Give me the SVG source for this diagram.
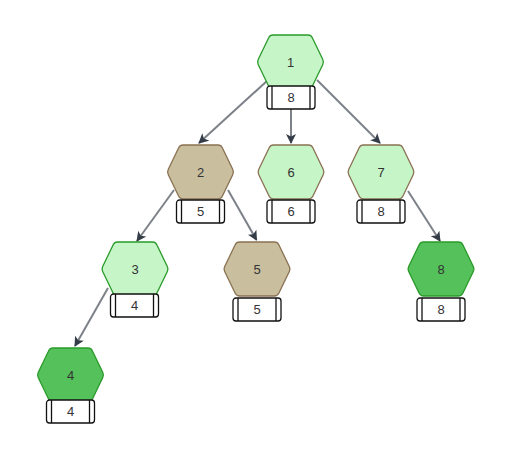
<svg xmlns="http://www.w3.org/2000/svg" xmlns:xlink="http://www.w3.org/1999/xlink" width="512" height="457" viewBox="0 0 512 457">
<style>
.lt{fill:#c6f5c8}
.tan{fill:#c9bf9f}
.dk{fill:#55c15b}
.sg{stroke:#2a9a2a;stroke-width:1.3}
.sb{stroke:#8a7152;stroke-width:1.3}
.box rect{fill:#fff;stroke:#111;stroke-width:1.3}
.box line{stroke:#111;stroke-width:1.3}
text{font-family:"Liberation Sans",Arial,sans-serif;font-size:13px;fill:#333;text-anchor:middle}
.edge{stroke:#7d8188;stroke-width:2;fill:none}
</style>
<defs>
<path id="hex" d="M-17.5,-27 L17.5,-27 Q20.5,-27 21.8,-24.3 L32.2,-2.7 Q33.5,0 32.2,2.7 L21.8,24.3 Q20.5,27 17.5,27 L-17.5,27 Q-20.5,27 -21.8,24.3 L-32.2,2.7 Q-33.5,0 -32.2,-2.7 L-21.8,-24.3 Q-20.5,-27 -17.5,-27 Z"/>
<g id="bx" class="box"><rect x="-24" y="0" width="48" height="23" rx="3"/><line x1="-19" y1="0" x2="-19" y2="23"/><line x1="19" y1="0" x2="19" y2="23"/></g>
<marker id="arr" viewBox="0 0 10 10" refX="9" refY="5" markerWidth="10" markerHeight="10" markerUnits="userSpaceOnUse" orient="auto">
<path d="M0,0 L10,5 L0,10 L2.5,5 Z" fill="#333c47"/>
</marker>
</defs>
<g id="edges">
<line class="edge" x1="268" y1="80" x2="199" y2="143" marker-end="url(#arr)"/>
<line class="edge" x1="291" y1="109" x2="291" y2="143" marker-end="url(#arr)"/>
<line class="edge" x1="317" y1="80" x2="380" y2="143" marker-end="url(#arr)"/>
<line class="edge" x1="174" y1="190" x2="137" y2="241" marker-end="url(#arr)"/>
<line class="edge" x1="228" y1="190" x2="256.5" y2="240" marker-end="url(#arr)"/>
<line class="edge" x1="108" y1="288" x2="75" y2="346" marker-end="url(#arr)"/>
<line class="edge" x1="408" y1="191" x2="440" y2="241" marker-end="url(#arr)"/>
</g>
<g id="n1"><use href="#hex" x="290.5" y="62" class="lt sg"/><text x="290.5" y="67">1</text><use href="#bx" x="291" y="86"/><text x="291" y="102">8</text></g>
<g id="n2"><use href="#hex" x="200.5" y="172" class="tan sb"/><text x="200.5" y="177">2</text><use href="#bx" x="200.5" y="200"/><text x="200.5" y="216">5</text></g>
<g id="n6"><use href="#hex" x="291" y="172" class="lt sb"/><text x="291" y="177">6</text><use href="#bx" x="291" y="200"/><text x="291" y="216">6</text></g>
<g id="n7"><use href="#hex" x="381" y="172" class="lt sb"/><text x="381" y="177">7</text><use href="#bx" x="381" y="200"/><text x="381" y="216">8</text></g>
<g id="n3"><use href="#hex" x="135" y="269" class="lt sg"/><text x="135" y="274">3</text><use href="#bx" x="134.5" y="294"/><text x="134.5" y="310">4</text></g>
<g id="n5"><use href="#hex" x="257" y="269" class="tan sb"/><text x="257" y="274">5</text><use href="#bx" x="257" y="298"/><text x="257" y="314">5</text></g>
<g id="n8"><use href="#hex" x="441" y="269" class="dk sg"/><text x="441" y="274">8</text><use href="#bx" x="441" y="298"/><text x="441" y="314">8</text></g>
<g id="n4"><use href="#hex" x="70.5" y="375" class="dk sg"/><text x="70.5" y="380">4</text><use href="#bx" x="70.5" y="400"/><text x="70.5" y="416">4</text></g>
</svg>
